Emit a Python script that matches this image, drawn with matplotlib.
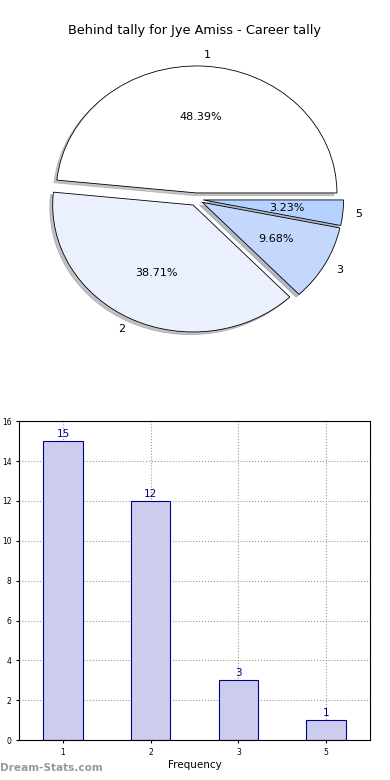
import matplotlib
matplotlib.use("Agg")
from matplotlib import pyplot as plt
import numpy as np

labels = ["1", "2", "3", "5"]
counts = [15, 12, 3, 1]
pie_colors = ["#ffffff", "#eaf0fe", "#c4d8fe", "#b4d2ff"]
title = "Behind tally for Jye Amiss - Career tally"

fig = plt.figure(figsize=(3.9, 7.8), dpi=100)

# pie on top, not forced round (old style)
ax1 = fig.add_axes([0.053, 0.541, 0.9, 0.407])
wedges, texts, autotexts = ax1.pie(counts, labels=labels, colors=pie_colors,
                                   explode=[0.05, 0.05, 0.05, 0.05], autopct="%.2f%%",
                                   shadow={"ox": -0.015, "oy": -0.015, "shade": 0.45},
                                   startangle=0, labeldistance=1.09,
                                   pctdistance=0.6,
                                   wedgeprops={"edgecolor": "black", "linewidth": 0.6})
for t in texts + autotexts:
    t.set_fontsize(8)
ax1.set_aspect("auto")
fig.text(0.5, 0.961, title, ha="center", va="center", fontsize=9.3)

# bar chart below
ax2 = fig.add_axes([0.049, 0.051, 0.9, 0.409])
x = np.arange(len(counts))
bars = ax2.bar(x, counts, width=0.45, color="#ccccee", edgecolor="#000088", linewidth=0.8, zorder=2)
for xi, c in zip(x, counts):
    ax2.text(xi, c + 0.1, str(c), ha="center", va="bottom", color="#000088", fontsize=7.5)
ax2.set_xlim(-0.5, 3.5)
ax2.set_ylim(0, 16)
ax2.set_xticks(x)
ax2.set_xticklabels(labels)
ax2.set_yticks(range(0, 17, 2))
ax2.tick_params(labelsize=5.5, length=2)
ax2.grid(True, linestyle=":", color="#999999", linewidth=0.8, zorder=0)
ax2.set_axisbelow(True)
ax2.set_xlabel("Frequency", fontsize=7.5, labelpad=2)
ax2.set_ylabel("Stats Total Tally", fontsize=7, labelpad=2)

fig.text(0.0, 0.012, "Dream-Stats.com", color="#999999", fontsize=7.6, fontweight="bold", ha="left")

plt.savefig("out.png", dpi=100)
